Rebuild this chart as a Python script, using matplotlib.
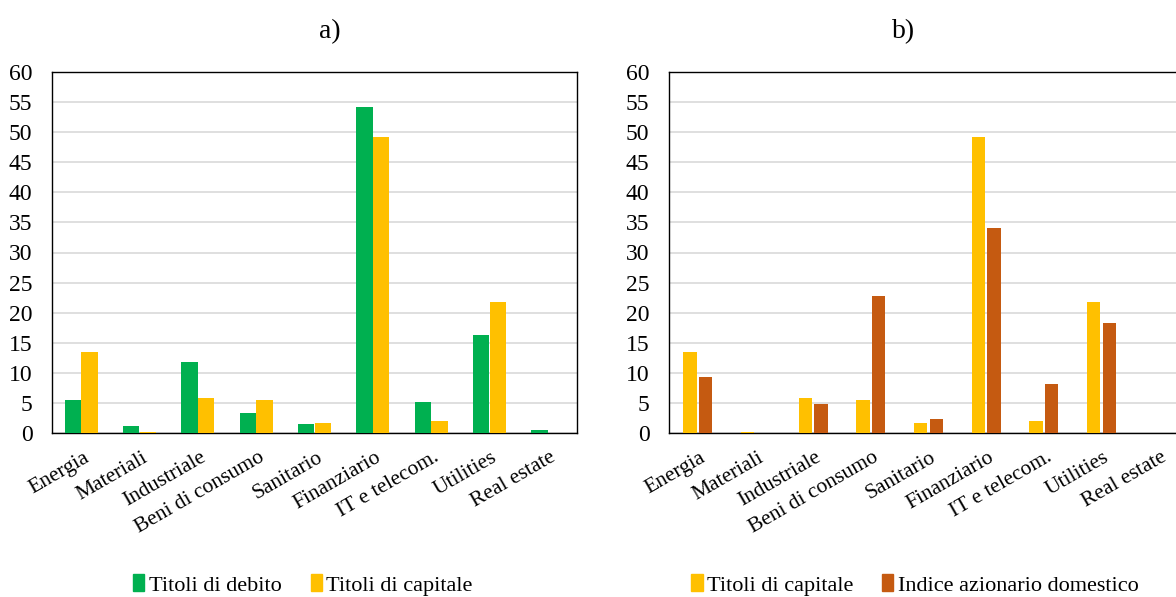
import matplotlib
matplotlib.use("Agg")
import matplotlib.pyplot as plt
import numpy as np
from matplotlib.patches import Patch

plt.rcParams['font.family'] = ['Liberation Serif', 'DejaVu Serif']

categories = ["Energia", "Materiali", "Industriale", "Beni di consumo", "Sanitario",
              "Finanziario", "IT e telecom.", "Utilities", "Real estate"]
titoli_debito = [5.5, 1.1, 11.8, 3.3, 1.5, 54.2, 5.2, 16.3, 0.45]
titoli_capitale = [13.5, 0.17, 5.8, 5.45, 1.65, 49.2, 2.0, 21.8, 0.05]
indice_azionario = [9.25, 0.0, 4.9, 22.8, 2.3, 34.1, 8.1, 18.3, 0.0]
yticks = list(range(0, 61, 5))

GREEN = "#00B050"
YELLOW = "#FFC000"
ORANGE = "#C55A11"
FS = 16

fig = plt.figure(figsize=(11.76, 5.97), dpi=100)
ax1 = fig.add_axes([52/1176, 1-433/597, 525/1176, 361/597])
ax2 = fig.add_axes([669/1176, 1-433/597, 519/1176, 361/597])

def style(ax, s1, s2, c1, c2, l1, l2, w, off, title, tx, lx):
    x = np.arange(len(categories))
    ax.bar(x - off, s1, width=w, color=c1, zorder=3)
    ax.bar(x + off, s2, width=w, color=c2, zorder=3)
    ax.set_xlim(-0.5, len(categories) - 0.5)
    ax.set_ylim(0, 60)
    ax.set_yticks(yticks)
    ax.set_yticklabels([str(t) for t in yticks], fontsize=17)
    ax.yaxis.grid(True, color="#d9d9d9", linewidth=1.2, zorder=0)
    ax.set_xticks(x + 0.03)
    ax.set_xticklabels(categories, rotation=30, ha="right", rotation_mode="anchor", fontsize=15.5)
    ax.tick_params(axis="x", length=0, pad=11)
    ax.tick_params(axis="y", length=0, pad=14)
    for sp in ax.spines.values():
        sp.set_color("black")
        sp.set_linewidth(1.0)
    ax.text(tx, 1.0 + 40/361, title, transform=ax.transAxes, ha="center", va="center", fontsize=20)
    handles = [Patch(color=c1, label=l1), Patch(color=c2, label=l2)]
    ax.legend(handles=handles, loc="center", bbox_to_anchor=(lx, -152/361), ncol=2,
              frameon=False, fontsize=FS, handlelength=0.5, handleheight=0.8,
              handletextpad=0.2, columnspacing=1.3)

style(ax1, titoli_debito, titoli_capitale, GREEN, YELLOW,
      "Titoli di debito", "Titoli di capitale", 0.28, 0.145, "a)", 0.53, 0.478)
style(ax2, titoli_capitale, indice_azionario, YELLOW, ORANGE,
      "Titoli di capitale", "Indice azionario domestico", 0.235, 0.135, "b)", 0.451, 0.474)

fig.savefig("out.png", dpi=100)
